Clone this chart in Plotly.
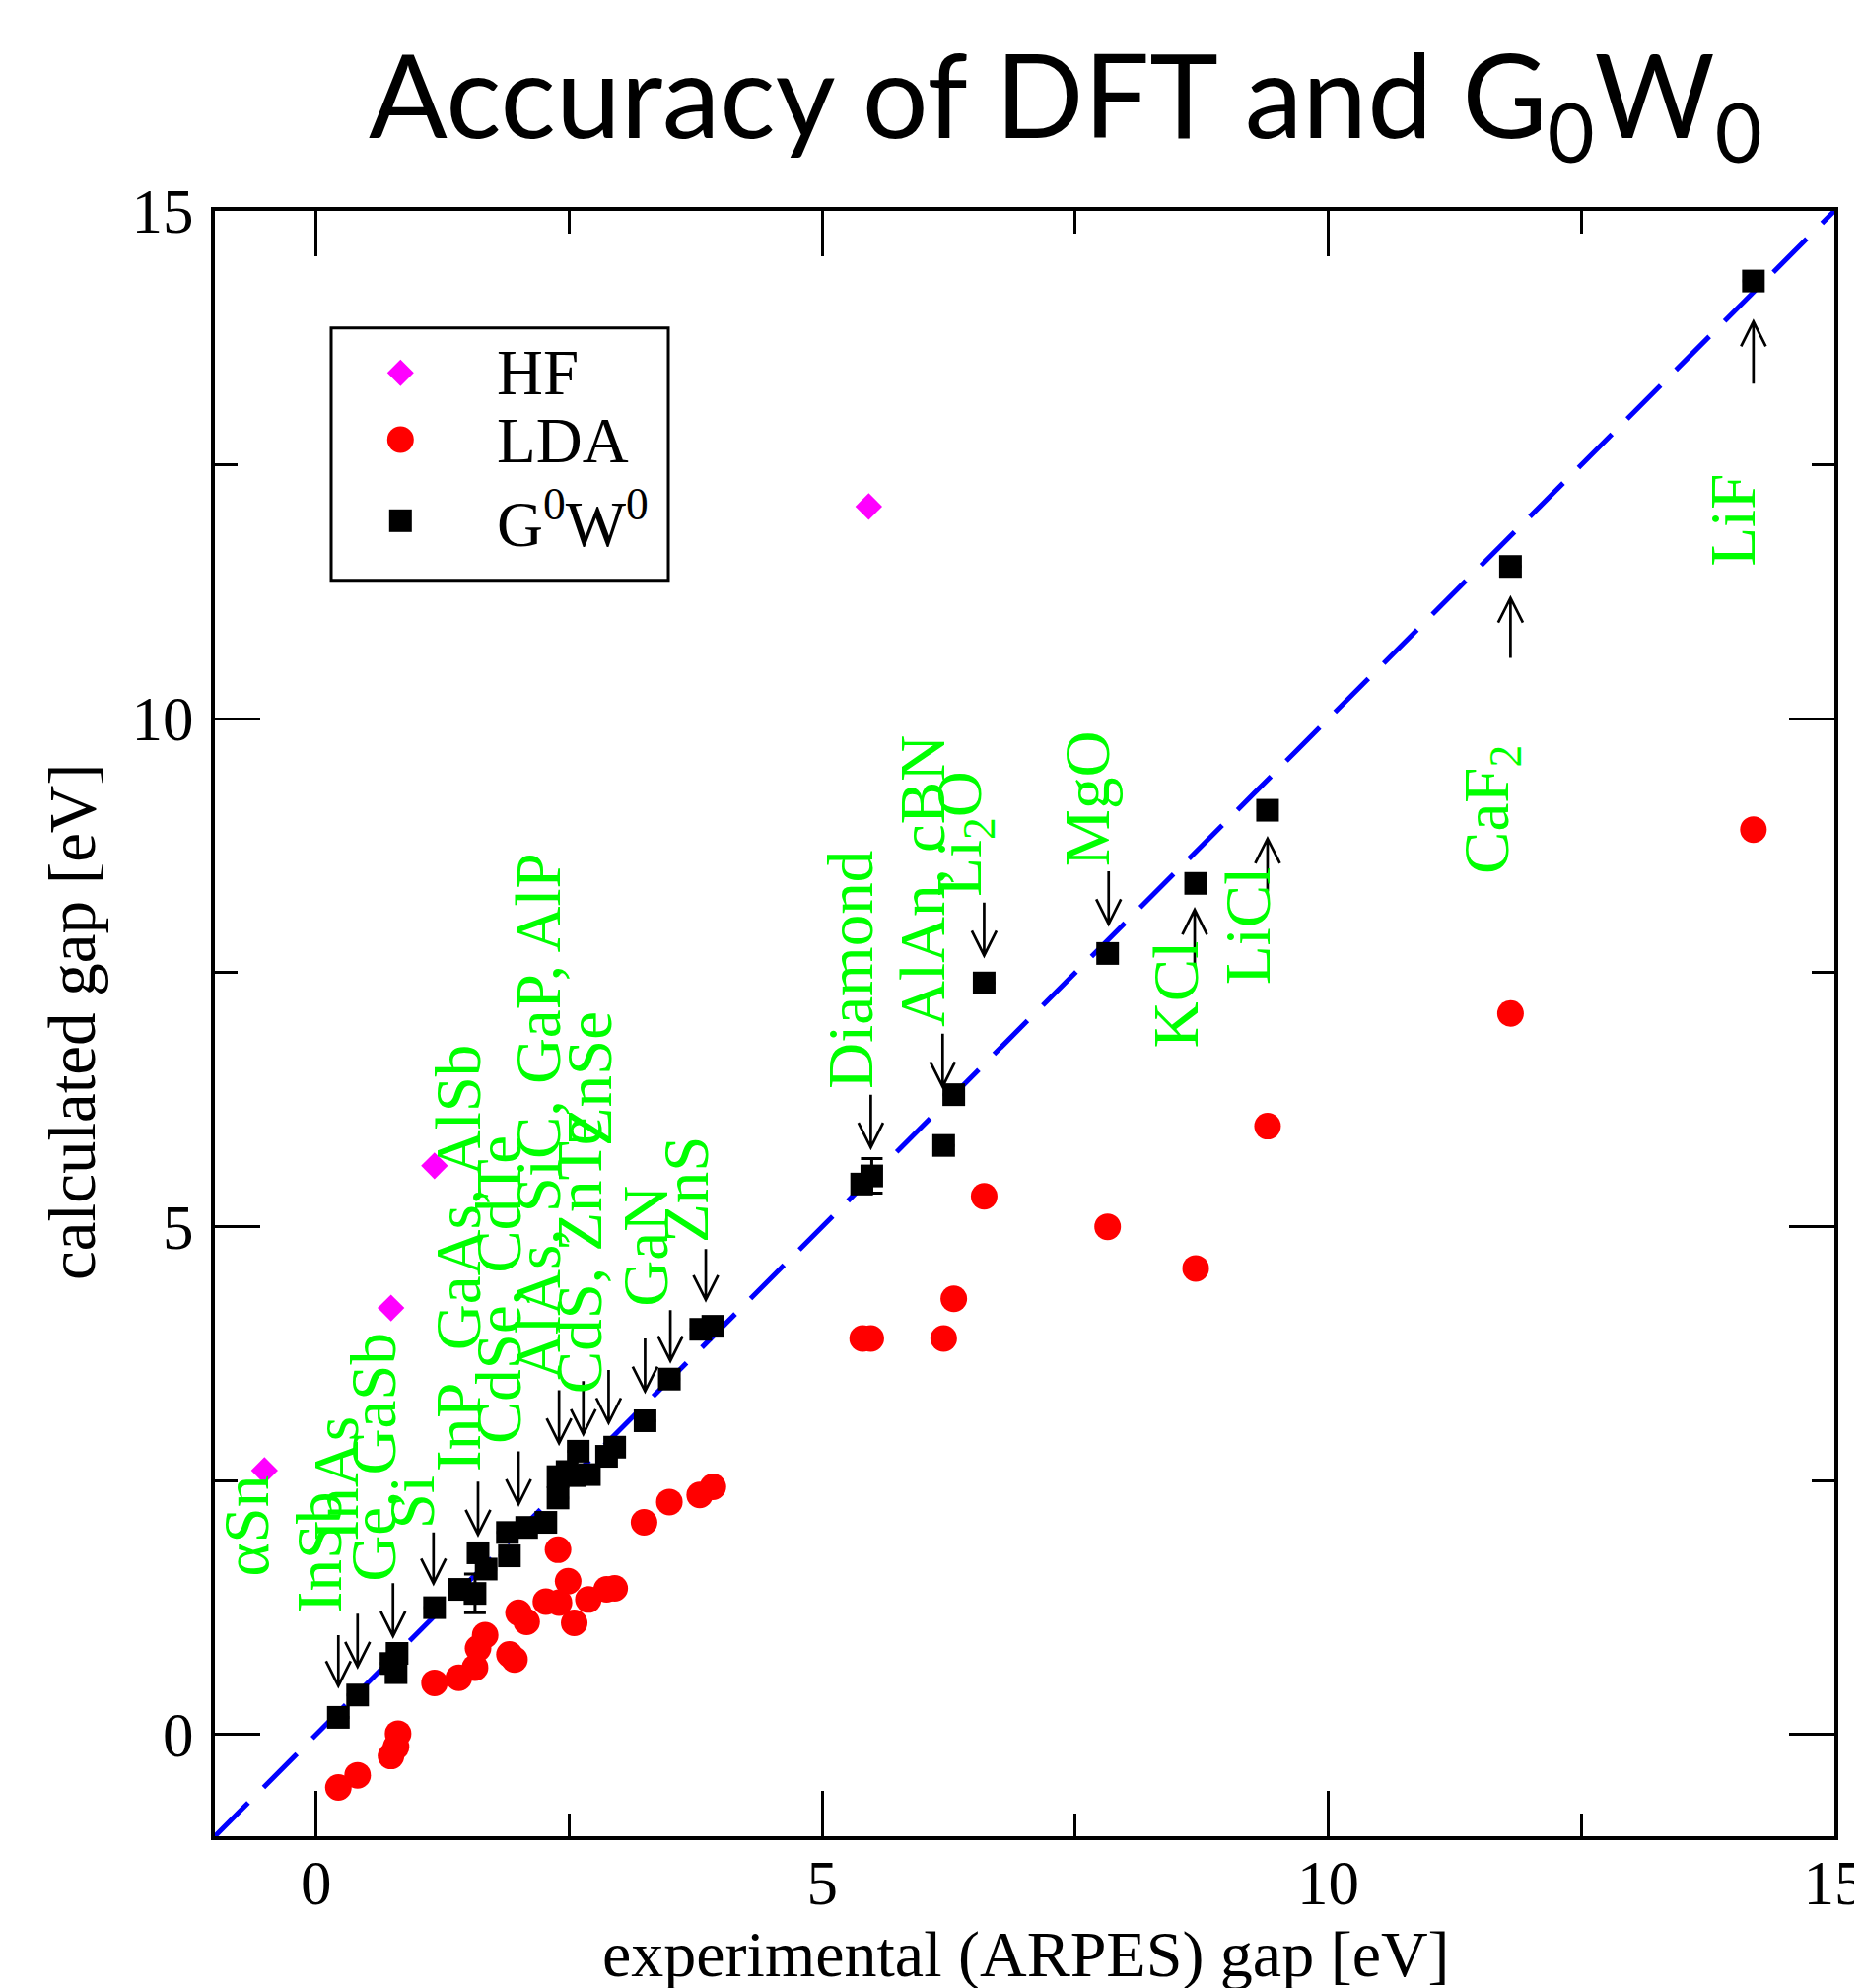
import plotly.graph_objects as go

# ---------------- data ----------------
hf_x = [-0.51, 0.74, 1.17, 5.46]
hf_y = [2.60, 4.20, 5.60, 12.09]

lda_x = [0.22, 0.41, 0.74, 0.79, 0.81, 1.17, 1.41, 1.57, 1.60, 1.67, 1.91, 1.96,
         2.00, 2.08, 2.27, 2.40, 2.39, 2.49, 2.55, 2.69, 2.87, 2.95, 3.24, 3.49,
         3.79, 3.92, 5.40, 5.48, 6.20, 6.30, 6.60, 7.82, 8.69, 9.40, 11.80, 14.20]
lda_y = [-0.52, -0.40, -0.21, -0.12, 0.01, 0.51, 0.56, 0.66, 0.85, 0.98, 0.79, 0.74,
         1.20, 1.11, 1.31, 1.30, 1.82, 1.51, 1.10, 1.33, 1.43, 1.44, 2.09, 2.29,
         2.36, 2.44, 3.90, 3.90, 3.90, 4.29, 5.30, 5.00, 4.59, 5.99, 7.10, 8.91]

gw_x = [0.22, 0.41, 0.74, 0.79, 0.80, 1.17, 1.42, 1.57, 1.60, 1.68, 1.91, 1.89,
        2.08, 2.27, 2.39, 2.39, 2.48, 2.59, 2.55, 2.70, 2.87, 2.95, 3.25, 3.49,
        3.80, 3.92, 5.39, 5.49, 6.20, 6.30, 6.60, 7.82, 8.69, 9.40, 11.80, 14.20]
gw_y = [0.17, 0.39, 0.70, 0.61, 0.80, 1.25, 1.43, 1.39, 1.79, 1.63, 1.76, 1.99,
        2.04, 2.09, 2.33, 2.54, 2.59, 2.79, 2.55, 2.56, 2.74, 2.83, 3.09, 3.50,
        3.99, 4.02, 5.42, 5.50, 5.80, 6.30, 7.40, 7.69, 8.38, 9.10, 11.50, 14.31]
gw_err = [0, 0, 0, 0, 0, 0, 0, 0.19, 0, 0, 0, 0,
          0, 0, 0, 0, 0, 0, 0, 0, 0, 0, 0, 0,
          0, 0, 0, 0.17, 0, 0, 0, 0, 0, 0, 0, 0]

diag_x = [-1, 15]
diag_y = [-1, 15]

arrow_x = [0.22, 0.41, 0.76, 1.16, 1.60, 2.00, 2.40, 2.64, 2.89, 3.25, 3.50, 3.85,
           5.48, 6.19, 6.60, 7.83, 8.68, 9.40, 11.80, 14.20]
arrow_tail = [0.98, 1.19, 1.49, 1.99, 2.49, 2.79, 3.39, 3.48, 3.59, 3.90, 4.18, 4.78,
              6.30, 6.90, 8.19, 8.50, 7.58, 8.30, 10.60, 13.30]
arrow_tip = [0.48, 0.67, 0.97, 1.49, 1.97, 2.27, 2.87, 2.96, 3.07, 3.38, 3.68, 4.28,
             5.78, 6.38, 7.67, 7.98, 8.12, 8.82, 11.19, 13.91]

label_text = ["αSn", "InSb", "InAs", "Ge, GaSb", "Si", "InP\u00a0\u00a0GaAs, AlSb", "CdSe, CdTe",
              "AlAs, SiC, GaP, AlP", "CdS, ZnTe", "ZnSe", "GaN", "ZnS", "Diamond",
              "AlAn, cBN", "Li<sub>2</sub>O", "MgO", "KCl", "LiCl", "CaF<sub>2</sub>", "LiF"]
label_x = [-0.69, 0.04, 0.20, 0.56, 0.95, 1.40, 1.80, 2.20, 2.61, 2.70, 3.26, 3.65,
           5.28, 5.99, 6.40, 7.62, 8.49, 9.20, 11.61, 14.00]
label_y = [2.06, 1.80, 2.52, 2.73, 2.29, 4.69, 4.38, 6.09, 4.72, 6.46, 4.81, 5.36,
           7.53, 8.40, 8.87, 9.21, 7.28, 7.96, 9.11, 11.96]

legend_names = ["HF", "LDA", "G<sup>0</sup>W<sup>0</sup>"]
legend_colors = ["#ff00ff", "#ff0000", "black"]

title_text = "Accuracy of DFT and G<sub>0</sub>W<sub>0</sub>"
x_title = "experimental (ARPES) gap [eV]"
y_title = "calculated gap [eV]"

SERIF = "Liberation Serif, Times New Roman, serif"

fig = go.Figure()
fig.add_trace(go.Scatter(x=diag_x, y=diag_y, mode="lines", showlegend=False, hoverinfo="skip",
                         line=dict(color="#0000ff", width=5, dash="48px,22px")))
fig.add_trace(go.Scatter(x=hf_x, y=hf_y, mode="markers", name=legend_names[0], showlegend=False,
                         marker=dict(symbol="diamond", size=21, color=legend_colors[0], line=dict(width=0))))
fig.add_trace(go.Scatter(x=lda_x, y=lda_y, mode="markers", name=legend_names[1], showlegend=False,
                         marker=dict(symbol="circle", size=27, color=legend_colors[1], line=dict(width=0))))
fig.add_trace(go.Scatter(x=gw_x, y=gw_y, mode="markers", name=legend_names[2], showlegend=False,
                         marker=dict(symbol="square", size=23, color=legend_colors[2], line=dict(width=0)),
                         error_y=dict(type="data", array=gw_err, visible=True, color="black",
                                      thickness=3, width=11)))

# arrows (open chevron heads) drawn in data coordinates
HW = 0.122   # half width of the chevron (axis units)
HH = 0.243   # chevron height (axis units)
shapes = []
for xa, yt, yp in zip(arrow_x, arrow_tail, arrow_tip):
    s = 1 if yt > yp else -1
    path = (f"M {xa},{yt} L {xa},{yp} "
            f"M {xa - HW},{yp + s * HH} L {xa},{yp} L {xa + HW},{yp + s * HH}")
    shapes.append(dict(type="path", xref="x", yref="y", path=path, layer="above",
                       line=dict(color="black", width=2.7)))

# hand-made legend box (to keep the large symbols of the original)
shapes.append(dict(type="rect", xref="paper", yref="paper", x0=0.07182, x1=0.27998,
                   y0=0.77277, y1=0.92801, line=dict(color="black", width=3),
                   fillcolor="white", layer="above"))
LX = 0.11461
LY = [0.90036, 0.85931, 0.80940]
shapes.append(dict(type="path", xref="paper", yref="paper", xsizemode="pixel", ysizemode="pixel",
                   xanchor=LX, yanchor=LY[0], path="M -13.5,0 L 0,13.5 L 13.5,0 L 0,-13.5 Z",
                   fillcolor=legend_colors[0], line=dict(width=0), layer="above"))
shapes.append(dict(type="circle", xref="paper", yref="paper", xsizemode="pixel", ysizemode="pixel",
                   xanchor=LX, yanchor=LY[1], x0=-13.5, x1=13.5, y0=-13.5, y1=13.5,
                   fillcolor=legend_colors[1], line=dict(width=0), layer="above"))
shapes.append(dict(type="rect", xref="paper", yref="paper", xsizemode="pixel", ysizemode="pixel",
                   xanchor=LX, yanchor=LY[2], x0=-11.5, x1=11.5, y0=-11.5, y1=11.5,
                   fillcolor=legend_colors[2], line=dict(width=0), layer="above"))

annotations = []
for t, xl, yl in zip(label_text, label_x, label_y):
    annotations.append(dict(x=xl, y=yl, xref="x", yref="y", text=t, showarrow=False,
                            textangle=-90, xanchor="center", yanchor="middle",
                            font=dict(family=SERIF, size=65, color="#00ff00")))

LTY = [0.90054, 0.85877, 0.81000]
for name, ly in zip(legend_names, LTY):
    annotations.append(dict(x=0.17267, y=ly, xref="paper", yref="paper", text=name,
                            showarrow=False, xanchor="left", yanchor="middle",
                            font=dict(family=SERIF, size=65, color="black")))

annotations.append(dict(x=0.5253, y=1.067, xref="paper", yref="paper", text=title_text,
                        showarrow=False, xanchor="center", yanchor="middle",
                        font=dict(family="Lato, Liberation Sans, sans-serif", size=118, color="black")))
annotations.append(dict(x=0.501, y=-0.0728, xref="paper", yref="paper", text=x_title,
                        showarrow=False, xanchor="center", yanchor="middle",
                        font=dict(family=SERIF, size=66, color="black")))
annotations.append(dict(x=-0.0883, y=0.5015, xref="paper", yref="paper", text=y_title,
                        showarrow=False, xanchor="center", yanchor="middle", textangle=-90,
                        font=dict(family=SERIF, size=67, color="black")))

def make_axis(standoff):
    return dict(range=[-1, 15], dtick=5, tick0=0, ticks="inside", ticklen=46, tickwidth=3,
                tickcolor="black", showline=True, linewidth=4, linecolor="black",
                mirror="ticks", showgrid=False, zeroline=False, automargin=False,
                ticklabelstandoff=standoff, ticklabeloverflow="allow",
                tickfont=dict(family=SERIF, size=63, color="black"),
                minor=dict(ticks="inside", ticklen=23, tickwidth=3, tickcolor="black",
                           dtick=2.5, tick0=0, showgrid=False))

# the page body has an 8 px margin: the figure is 8 px smaller and margins
# reduced by 8 px on the left/top so the plot lands where the original has it
fig.update_layout(
    width=1881, height=2009,
    margin=dict(l=210, r=28, t=206, b=154, autoexpand=False),
    paper_bgcolor="white", plot_bgcolor="white",
    font=dict(family=SERIF, color="black"),
    xaxis=make_axis(-11), yaxis=make_axis(5),
    shapes=shapes,
    annotations=annotations,
    showlegend=False,
)

fig.write_html("out.html", config={"responsive": False})
